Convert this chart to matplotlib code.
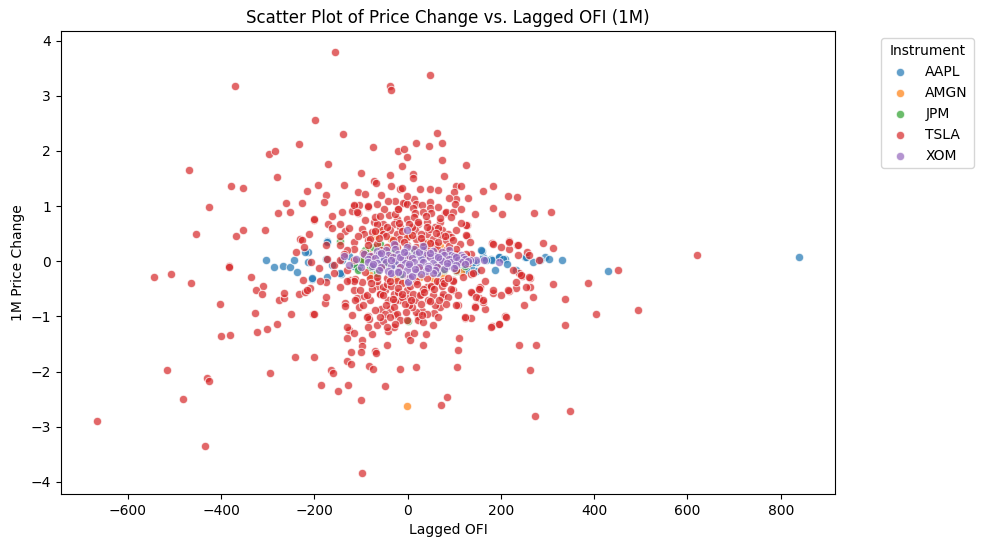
import matplotlib
matplotlib.use("Agg")
from matplotlib import pyplot as plt

# (lagged OFI, 1M price change) pairs, one list per instrument
instruments = ["AAPL", "AMGN", "JPM", "TSLA", "XOM"]
colors = ["#1f77b4", "#ff7f0e", "#2ca02c", "#d62728", "#9467bd"]

aapl_points = [
    (840, 0.07), (429, -0.18), (331, 0.03), (294, 0.08), (284, 0.02), (252, 0.07), (233, -0.15),
    (187, -0.15), (179, 0.05), (195, 0.08), (208, 0.04), (161, 0.08), (147, -0.18), (135, -0.09),
    (147, -0.01), (160, 0.19), (180, 0.02), (-304, 0.03), (-286, -0.10), (-267, -0.08), (-252, -0.10),
    (-244, 0.02), (-238, -0.19), (-214, 0.17), (-214, -0.02), (-204, -0.33), (-172, -0.28), (-143, -0.24),
    (-172, 0.37), (-219, 0.17), (-205, -0.31), (-173, 0.35), (-176, 0.05), (-162, -0.07), (-141, 0.02),
    (-144, -0.22), (-105, -0.13), (-98, -0.01), (158, 0.20), (169, 0.02), (197, 0.08), (204, 0.05),
    (254, 0.08), (140, -0.01), (119, -0.13), (126, -0.16), (-126, 0.10), (-116, -0.08), (109, 0.05),
    (99, -0.05), (-86, 0.08), (-76, -0.12), (84, 0.12), (-56, 0.05), (64, -0.05), (34, 0.08),
    (-26, -0.06), (4, 0.02), (214, -0.05), (269, -0.02), (304, 0.05),
]

amgn_points = [
    (-62, 0.56), (-71, 0.45), (-36, 0.40), (-86, 0.15), (26, -0.29), (76, -0.25), (54, -0.30),
    (-26, -0.30), (104, 0.10), (-2, -2.63), (4, 0.45), (44, 0.35), (114, -0.20), (-6, -0.35),
    (-81, -0.25), (-96, 0.05), (69, 0.28),
]

jpm_points = [
    (-146, 0.36), (-98, 0.02), (-59, 0.32), (-66, -0.22), (-81, -0.10), (1, -1.09), (-36, 0.15),
    (64, -0.20), (94, 0.10), (-116, -0.05), (34, 0.25), (124, -0.08), (-51, -0.05), (79, -0.15),
    (-16, -0.25), (14, 0.18), (-91, 0.20), (-74, 0.25), (104, -0.18), (-106, -0.15),
]

tsla_points = [
    # upper part
    (-156, 3.79), (-370, 3.18), (48, 3.38), (-38, 3.17), (-35, 3.10), (-198, 2.57), (-138, 2.31),
    (-297, 1.94), (-284, 2.00), (-232, 2.12), (-469, 1.65), (-171, 1.76), (-75, 2.07), (-21, 2.00),
    (-7, 2.04), (-1, 1.89), (19, 2.14), (46, 2.09), (63, 2.32), (74, 2.15), (73, 1.83), (-11, 1.73),
    (11, 1.59), (12, 1.51), (-37, 1.57), (78, 1.54), (-100, 1.60), (-72, 1.46), (-67, 1.42), (-137, 1.38),
    (-192, 1.39), (-281, 1.52), (-379, 1.37), (-352, 1.33), (-426, 0.99), (-216, 1.27), (-176, 1.20),
    (-180, 1.07), (-106, 1.26), (-91, 1.22), (-261, 1.05), (-227, 1.06), (-277, 0.88), (-252, 0.89),
    (-35, 1.36), (-16, 1.31), (-11, 1.32), (26, 1.31), (48, 1.31), (66, 1.30), (-65, 1.04),
    (-114, 1.01), (-105, 1.02), (-119, 0.91), (-106, 0.87), (-85, 0.99), (-27, 1.09), (-6, 1.06),
    (14, 1.12), (19, 1.04), (48, 1.07), (48, 0.96), (-40, 0.84), (-21, 0.94), (-23, 0.76),
    (-163, 0.82), (-200, 0.75), (-171, 0.68), (-146, 0.67), (-162, 0.61), (-134, 0.54), (-212, 0.50),
    (-231, 0.41), (-305, 0.56), (-454, 0.50), (-368, 0.46), (-354, 0.56), (-383, -0.09), (-239, 0.16),
    (125, 1.75), (104, 1.37), (114, 1.37), (99, 1.26), (103, 1.13), (129, 1.14), (161, 1.28),
    (184, 1.36), (216, 1.18), (235, 1.16), (184, 0.97), (202, 0.85), (270, 0.88), (308, 0.89),
    (128, 0.66), (128, 0.46), (182, 0.33), (217, 0.37), (234, 0.30), (218, 0.22), (257, 0.17),
    (291, 0.33), (311, 0.24), (451, -0.15), (621, 0.11),
    # lower left
    (-543, -0.29), (-508, -0.24), (-465, -0.39), (-384, -0.10), (-336, -0.28), (-310, -0.44),
    (-325, -0.53), (-312, -0.59), (-402, -0.77), (-328, -0.94), (-400, -1.36), (-380, -1.34),
    (-323, -1.28), (-301, -1.22), (-281, -1.14), (-251, -0.95), (-275, -0.70), (-264, -0.66),
    (-264, -0.58), (-232, -0.59), (-219, -0.56), (-210, -0.49), (-225, -0.34), (-202, -0.95),
    (-178, -0.76), (-176, -0.37), (-242, -1.74), (-200, -1.73), (-296, -2.02), (-517, -1.97),
    (-431, -2.11), (-425, -2.18), (-482, -2.49), (-667, -2.89), (-434, -3.35), (-98, -3.84),
    (-164, -1.98), (-159, -2.02), (-185, -2.25), (-149, -2.35), (-128, -2.25), (-101, -2.52),
    (-48, -2.27), (-16, -1.96), (19, -1.91), (71, -2.61), (85, -2.47), (-129, -1.81), (-121, -1.86),
    (-125, -1.25), (-129, -1.40), (-116, -1.30), (-122, -1.65), (-98, -1.43), (-97, -1.54),
    (-99, -1.65), (-83, -1.90), (-75, -1.96), (-69, -1.62), (-67, -1.66), (-45, -1.52), (-76, -1.32),
    (-43, -1.27), (-30, -1.19), (-65, -1.16), (-52, -1.09), (-119, -0.98), (-85, -0.99), (-83, -1.05),
    (-134, -0.75), (-134, -0.82), (1, -1.34), (6, -1.43), (14, -1.30), (40, -1.32), (33, -1.51),
    (22, -0.99), (30, -0.90), (56, -0.93), (73, -0.64), (-16, -0.71), (1, -0.65), (16, -0.71),
    (29, -0.60), (51, -0.46), (67, -0.37), (-56, -0.86), (-38, -0.87), (-28, -0.98), (-48, -0.95),
    (-41, -0.71), (-27, -0.72), (-60, -0.60), (-66, -0.45), (-48, -0.53), (-98, -0.38), (-80, -0.30),
    (-109, -0.67), (-81, -0.71), (-93, -0.63), (-124, -0.34), (-114, -0.53), (-112, -0.33),
    # lower right
    (349, -2.72), (273, -2.81), (262, -1.97), (239, -1.52), (275, -1.51), (386, -0.39), (311, -0.41),
    (338, -0.69), (338, -1.16), (405, -0.96), (493, -0.88), (250, -0.80), (262, -0.47), (262, -0.30),
    (245, -0.27), (238, -0.21), (232, -0.48), (218, -0.54), (208, -1.00), (197, -1.14), (181, -1.18),
    (183, -0.57), (165, -0.87), (161, -0.74), (154, -0.49), (139, -0.58), (144, -0.82), (153, -0.67),
    (156, -0.47), (135, -0.24), (122, -1.02), (136, -1.02), (111, -1.40), (108, -1.60), (105, -1.91),
    (108, -0.79), (98, -0.34), (282, 0.02),
    # dense core
    (-201, 0.76), (-226, 0.38), (-116, 1.02), (-109, 0.90), (-84, 1.00), (-72, 0.71), (-53, 0.67),
    (-57, 0.56), (-98, 0.59), (-94, 0.50), (-84, 0.38), (-116, 0.35), (-116, 0.23), (-130, 0.20),
    (-137, 0.13), (-9, 1.05), (-2, 1.03), (12, 0.96), (16, 0.87), (30, 1.02), (51, 0.87), (65, 0.99),
    (80, 0.87), (83, 0.90), (97, 0.90), (101, 1.03), (94, 0.80), (69, 0.71), (-30, 0.68), (-16, 0.62),
    (-2, 0.77), (23, 0.68), (41, 0.71), (58, 0.62), (73, 0.56), (87, 0.50), (104, 0.56), (126, 0.65),
    (126, 0.47), (133, 0.35), (-66, 0.68), (-77, 0.53), (-80, 0.41), (-52, 0.50), (-38, 0.56),
    (-23, 0.50), (-16, 0.41), (-2, 0.44), (16, 0.56), (19, 0.41), (41, 0.50), (55, 0.41), (69, 0.47),
    (83, 0.38), (94, 0.44), (112, 0.32), (58, 0.29), (34, 0.35),
    (183, 0.32), (200, 0.26), (218, 0.35), (236, 0.29), (261, 0.11), (236, 0.11), (225, -0.16),
    (243, -0.25), (261, -0.29), (232, -0.38), (254, -0.47), (268, -0.65),
    (136, 0.14), (129, -0.04), (140, -0.22), (158, -0.16), (165, -0.35), (154, -0.50), (136, -0.56),
    (147, -0.65), (161, -0.71), (144, -0.83), (183, -0.53), (200, -0.62), (215, -0.53), (211, -1.01),
    (197, -1.13), (179, -1.19), (122, -1.01), (104, -0.80),
    (-66, -0.35), (-52, -0.47), (-59, -0.59), (-30, -0.83), (-23, -0.95), (-16, -1.07), (-2, -0.53),
    (12, -0.59), (26, -0.62), (41, -0.47), (51, -0.44), (62, -0.35), (76, -0.59), (87, -0.65),
    (97, -0.53), (69, -0.83), (83, -0.77), (65, -1.01), (41, -0.95), (19, -0.92), (9, -0.83),
    (-2, -1.07), (-27, -1.13), (-45, -1.19), (-38, -1.01), (-59, -1.01), (-70, -0.89), (-87, -1.01),
    (-87, -0.62), (-77, -0.50), (-102, -0.53), (-112, -0.71), (-105, -0.83), (-116, -0.35),
    (-130, -0.35), (-144, -0.47), (-176, -0.65), (-201, -0.95), (-130, -1.19), (-84, -1.19),
    (23, -1.07), (2, -0.80), (-13, -0.65), (-30, -0.59), (-45, -0.41),
    (-208, -0.01), (-190, -0.13), (-173, 0.05), (-158, -0.07), (-144, 0.02), (-158, -0.22),
    (-187, -0.35), (-215, -0.53), (-222, 0.26), (-176, 0.29), (-144, 0.29), (-116, 0.02), (-130, -0.16),
    (104, 0.14), (104, -0.16), (119, -0.28), (126, 0.14),
    (-66, 0.32), (-45, 0.26), (-23, 0.26), (-2, 0.29), (19, 0.26), (41, 0.23), (62, 0.23), (83, 0.20),
    (104, 0.23), (-66, -0.28), (-45, -0.31), (-23, -0.35), (19, -0.35), (41, -0.31), (76, -0.35),
    (97, -0.35), (-36, 0.10), (-16, -0.10), (4, 0.05), (24, -0.12), (44, 0.12), (64, -0.08), (84, 0.05),
    (-56, -0.10), (-76, 0.10), (-96, 0.15), (-91, -0.20), (114, 0.0),
    (-46, 0.45), (-31, 0.38), (-11, 0.55), (9, 0.62), (29, 0.50), (49, 0.58), (66, 0.35), (89, 0.28),
    (-58, 0.20), (-36, -0.45), (-11, -0.40), (6, -0.45), (32, -0.50), (54, -0.62), (74, -0.45),
    (92, -0.50), (-21, -0.55), (44, -0.70), (-6, -0.78), (59, -0.80), (14, 0.80), (-26, 0.85),
    (34, 0.90), (-51, 0.95), (-71, 0.80), (114, 0.70), (109, -0.62), (-91, 0.75), (-96, -0.80),
    (34, -1.10), (54, -1.15), (-106, 0.45), (-126, 0.60), (-146, 0.45), (114, 0.95), (144, 0.85),
    (89, 1.15), (-56, 1.20), (-1, 1.18), (-141, 0.90), (-41, 1.10),
    # extra overlap in the middle of the cloud
    (-44, 0.62), (-28, 0.30), (-8, 0.35), (10, 0.48), (28, 0.42), (48, 0.34), (66, 0.60), (80, 0.45),
    (-62, 0.42), (-70, 0.55), (-18, 0.70), (2, 0.68), (22, 0.72), (42, 0.62), (60, 0.52), (98, 0.38),
    (-38, -0.35), (-20, -0.48), (0, -0.30), (20, -0.42), (36, -0.55), (56, -0.50), (78, -0.40),
    (-52, -0.62), (-32, -0.68), (-12, -0.60), (8, -0.70), (28, -0.78), (48, -0.72), (68, -0.70),
    (86, -0.30), (-78, -0.40), (-86, 0.30), (-4, -0.92), (30, -0.98), (-46, -0.80), (-60, 0.82),
    (40, 0.82), (70, 0.78), (-20, 0.95),
]

xom_points = [
    (-2, 0.56), (-137, 0.09), (-126, -0.07), (-94, 0.14), (-30, 0.32), (1, -0.35), (5, -0.28),
    (197, -0.01), (147, 0.02), (133, 0.02), (115, 0.11), (-38, -0.22), (1, -0.38), (-111, 0.05),
    (164, 0.03), (-101, -0.10), (89, 0.20), (64, -0.22),
    (-66, 0.18), (-46, 0.21), (-26, 0.22), (-6, 0.19), (14, 0.23), (34, 0.20), (54, 0.18), (74, 0.16),
    (94, 0.12),
    (-81, 0.10), (-61, 0.13), (-41, 0.12), (-21, 0.14), (-1, 0.11), (19, 0.13), (39, 0.12), (59, 0.10),
    (79, 0.11), (99, 0.09), (119, 0.07),
    (-86, 0.04), (-71, 0.06), (-51, 0.05), (-31, 0.07), (-11, 0.04), (9, 0.06), (29, 0.05), (49, 0.07),
    (69, 0.04), (89, 0.05), (109, 0.03), (124, 0.04),
    (-84, -0.01), (-66, -0.03), (-46, -0.02), (-26, 0.00), (-6, -0.03), (14, -0.01), (34, -0.02),
    (54, -0.03), (74, 0.00), (94, -0.02), (114, -0.01), (129, 0.01),
    (-76, -0.08), (-56, -0.10), (-36, -0.09), (-16, -0.11), (4, -0.08), (24, -0.10), (44, -0.09),
    (64, -0.11), (84, -0.08), (104, -0.07), (122, -0.05),
    (-61, -0.15), (-41, -0.17), (-21, -0.18), (-1, -0.16), (19, -0.19), (39, -0.17), (59, -0.15),
    (79, -0.14), (99, -0.12),
    (-36, -0.22), (-11, -0.24), (9, -0.26), (29, -0.23), (54, -0.21),
    (-56, 0.15), (-16, 0.08), (4, -0.05), (24, 0.16), (44, -0.13), (-36, 0.02), (66, 0.08), (-1, 0.26),
    (34, 0.27), (-21, -0.20), (84, -0.03), (104, 0.08), (-74, -0.05), (49, 0.15), (-8, 0.17),
    (16, -0.14),
]

series = [aapl_points, amgn_points, jpm_points, tsla_points, xom_points]

fig = plt.figure(figsize=(9.83, 5.47), dpi=100)
ax = fig.add_axes([0.0617, 0.0969, 0.788, 0.8459])

for name, color, points in zip(instruments, colors, series):
    xs = [p[0] for p in points]
    ys = [p[1] for p in points]
    ax.scatter(xs, ys, s=36, color=color, alpha=0.7, edgecolors="white", linewidths=0.75, label=name)

ax.set_xlim(-744, 917)
ax.set_ylim(-4.22, 4.17)
ax.set_title("Scatter Plot of Price Change vs. Lagged OFI (1M)")
ax.set_xlabel("Lagged OFI")
ax.set_ylabel("1M Price Change")
ax.legend(title="Instrument", bbox_to_anchor=(1.05, 1), loc="upper left")

fig.savefig("out.png", dpi=100)
